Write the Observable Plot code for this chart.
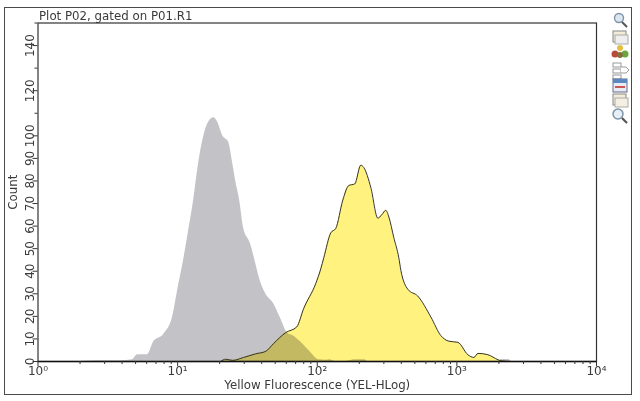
<!DOCTYPE html>
<html>
<head>
<meta charset="utf-8">
<script src="https://cdn.jsdelivr.net/npm/d3@7"></script>
<script src="https://cdn.jsdelivr.net/npm/@observablehq/plot@0.6"></script>
<style>
html,body{margin:0;padding:0;background:#fff;overflow:hidden}
#wrap{position:relative;width:640px;height:401px}
#outer{position:absolute;left:4px;top:7px;width:626px;height:386px;border:1.5px solid #4a4a4a;box-sizing:content-box}
#tools{position:absolute;left:610px;top:11px}
#chart{position:absolute;left:0;top:0}
</style>
</head>
<body>
<div id="wrap"><div id="outer"></div><div id="chart"></div>
<svg id="tools" width="20" height="114" viewBox="0 0 20 114">
  <g fill="none" stroke="#7f93a8" stroke-width="1.4"><circle cx="9" cy="7" r="4.5" fill="#dbe6f0"/><path d="M12 11l5 5" stroke="#555" stroke-width="2"/></g>
  <g><rect x="3" y="20" width="13" height="11" fill="#f3ecd8" stroke="#888"/><rect x="5" y="24" width="13" height="9" fill="#eee" stroke="#aaa"/></g>
  <g><circle cx="10" cy="37" r="3" fill="#e4c040"/><circle cx="5" cy="43" r="3.5" fill="#b84a3a"/><circle cx="15" cy="43" r="3.5" fill="#6aa63c"/><circle cx="10" cy="44" r="3" fill="#80703a"/></g>
  <g fill="#fff" stroke="#999"><rect x="3" y="52" width="8" height="4"/><rect x="3" y="58" width="8" height="4"/><rect x="3" y="64" width="8" height="4"/><path d="M11 56h5l3 3-3 3h-5"/></g>
  <g><rect x="3" y="68" width="14" height="13" fill="#e8edf4" stroke="#668"/><rect x="3" y="68" width="14" height="4" fill="#5a88c0"/><rect x="5" y="75" width="10" height="2" fill="#c55"/></g>
  <g><rect x="3" y="83" width="13" height="11" fill="#f3ecd8" stroke="#888"/><rect x="5" y="87" width="13" height="9" fill="#f4efe2" stroke="#aaa"/></g>
  <g fill="none" stroke="#7f93a8" stroke-width="1.5"><circle cx="8" cy="103" r="5" fill="#e6eef6"/><path d="M12 107l5 5" stroke="#555" stroke-width="2.2"/></g>
</svg>
</div>
<script>
// log10 of the fluorescence channel, and the event count there
const grayLog = [0.30,0.448,0.591,0.677,0.713,0.785,0.828,0.900,0.964,1.0,1.043,1.079,1.115,1.151,1.186,1.222,1.258,1.287,1.323,1.366,1.394,1.416,1.444,1.473,1.523,1.559,1.581,1.631,1.688,1.738,1.789,1.824,1.882,1.953,2.011,2.061,2.09,2.13,2.20,2.27,2.34,2.36,3.30,3.315,3.37,3.39];
const grayCount = [0,0.3,0.3,0.8,3,3,8.6,12,19.7,31.5,45,58,71.5,88,99.5,106,108,106,100,97,88,80,71.5,59,52,43.5,38,30,25.6,19,12.4,11.5,8.6,4,0.8,0.6,0.8,0,0,0.8,0.8,0,0,0.9,0.9,0];
const yellowLog = [1.308,1.344,1.394,1.473,1.559,1.631,1.688,1.774,1.853,1.903,1.989,2.025,2.047,2.097,2.133,2.183,2.226,2.269,2.312,2.333,2.384,2.434,2.462,2.491,2.513,2.548,2.584,2.599,2.649,2.720,2.814,2.885,2.943,3.007,3.079,3.122,3.151,3.222,3.294,3.315,3.387];
const yellowCount = [0,1,0.5,1.8,3.4,4.5,8,12.8,15.3,23.5,34.5,41,46,57,59,71.5,78,78.7,87,86,77,63.5,65,67,64,55,46,40.4,32,29,19.7,11.5,9,8.5,3,1.8,3.6,3,0.8,0.3,0];

const xMajor = [1,10,100,1000,10000];
const xMajorLabels = ["10⁰","10¹","10²","10³","10⁴"];
const xMinor = [2,3,4,5,6,7,8,9,20,30,40,50,60,70,80,90,200,300,400,500,600,700,800,900,2000,3000,4000,5000,6000,7000,8000,9000];
const yMajor = [0,10,20,30,40,50,60,70,80,90,100,120,140];
const yMinor = [110,130,150];

const titleText = "Plot P02, gated on P01.R1";
const xLabel = "Yellow Fluorescence (YEL-HLog)";
const yLabel = "Count";
const grayColor = "#c3c3c7";
const yellowColor = "#fff27e";

const gray = grayLog.map((l,i)=>({x:10**l,y:grayCount[i]}));
const yellow = yellowLog.map((l,i)=>({x:10**l,y:yellowCount[i]}));
const font = "DejaVu Sans, Verdana, sans-serif";
const ink = "#3a3a3a";

const plot = Plot.plot({
  width:640,height:401,
  marginLeft:37.5,marginRight:44,marginTop:22.5,marginBottom:40,
  style:{background:"transparent",fontFamily:font,fontSize:"11.8px",color:ink},
  x:{type:"log",domain:[1,10000]},
  y:{domain:[0,150]},
  marks:[
    Plot.areaY(gray,{x:"x",y:"y",fill:grayColor,curve:"monotone-x"}),
    Plot.areaY(yellow,{x:"x",y:"y",fill:yellowColor,mixBlendMode:"multiply",curve:"monotone-x"}),
    Plot.lineY(yellow,{x:"x",y:"y",stroke:"#333",strokeWidth:1,curve:"monotone-x"}),
    Plot.frame({stroke:"#333",strokeWidth:1.2}),
    Plot.ruleY([0],{stroke:"#111",strokeWidth:1.6}),
    Plot.axisX({ticks:xMajor,tickSize:5,tickFormat:()=>"",label:null,stroke:"#333"}),
    Plot.axisX({ticks:xMinor,tickSize:3,tickFormat:()=>"",label:null,stroke:"#333"}),
    Plot.axisY({ticks:yMajor,tickSize:5,tickFormat:()=>"",label:null,stroke:"#333"}),
    Plot.axisY({ticks:yMinor,tickSize:3,tickFormat:()=>"",label:null,stroke:"#333"}),
    Plot.text(xMajor,{x:d=>d,text:(d,i)=>xMajorLabels[i],frameAnchor:"bottom",dy:13,fill:ink,fontSize:12}),
    Plot.text(yMajor,{y:d=>d,text:d=>String(d),frameAnchor:"left",textAnchor:"middle",dx:-8,rotate:-90,fill:ink,fontSize:12}),
    Plot.text([xLabel],{frameAnchor:"bottom",dy:27,fill:ink,fontSize:11.8}),
    Plot.text([yLabel],{frameAnchor:"left",textAnchor:"middle",dx:-25,rotate:-90,fill:ink,fontSize:11.8}),
    Plot.text([titleText],{frameAnchor:"top-left",dy:-11,dx:1,textAnchor:"start",fill:ink,fontSize:11.8})
  ]
});
document.getElementById("chart").appendChild(plot);
</script>
</body>
</html>
